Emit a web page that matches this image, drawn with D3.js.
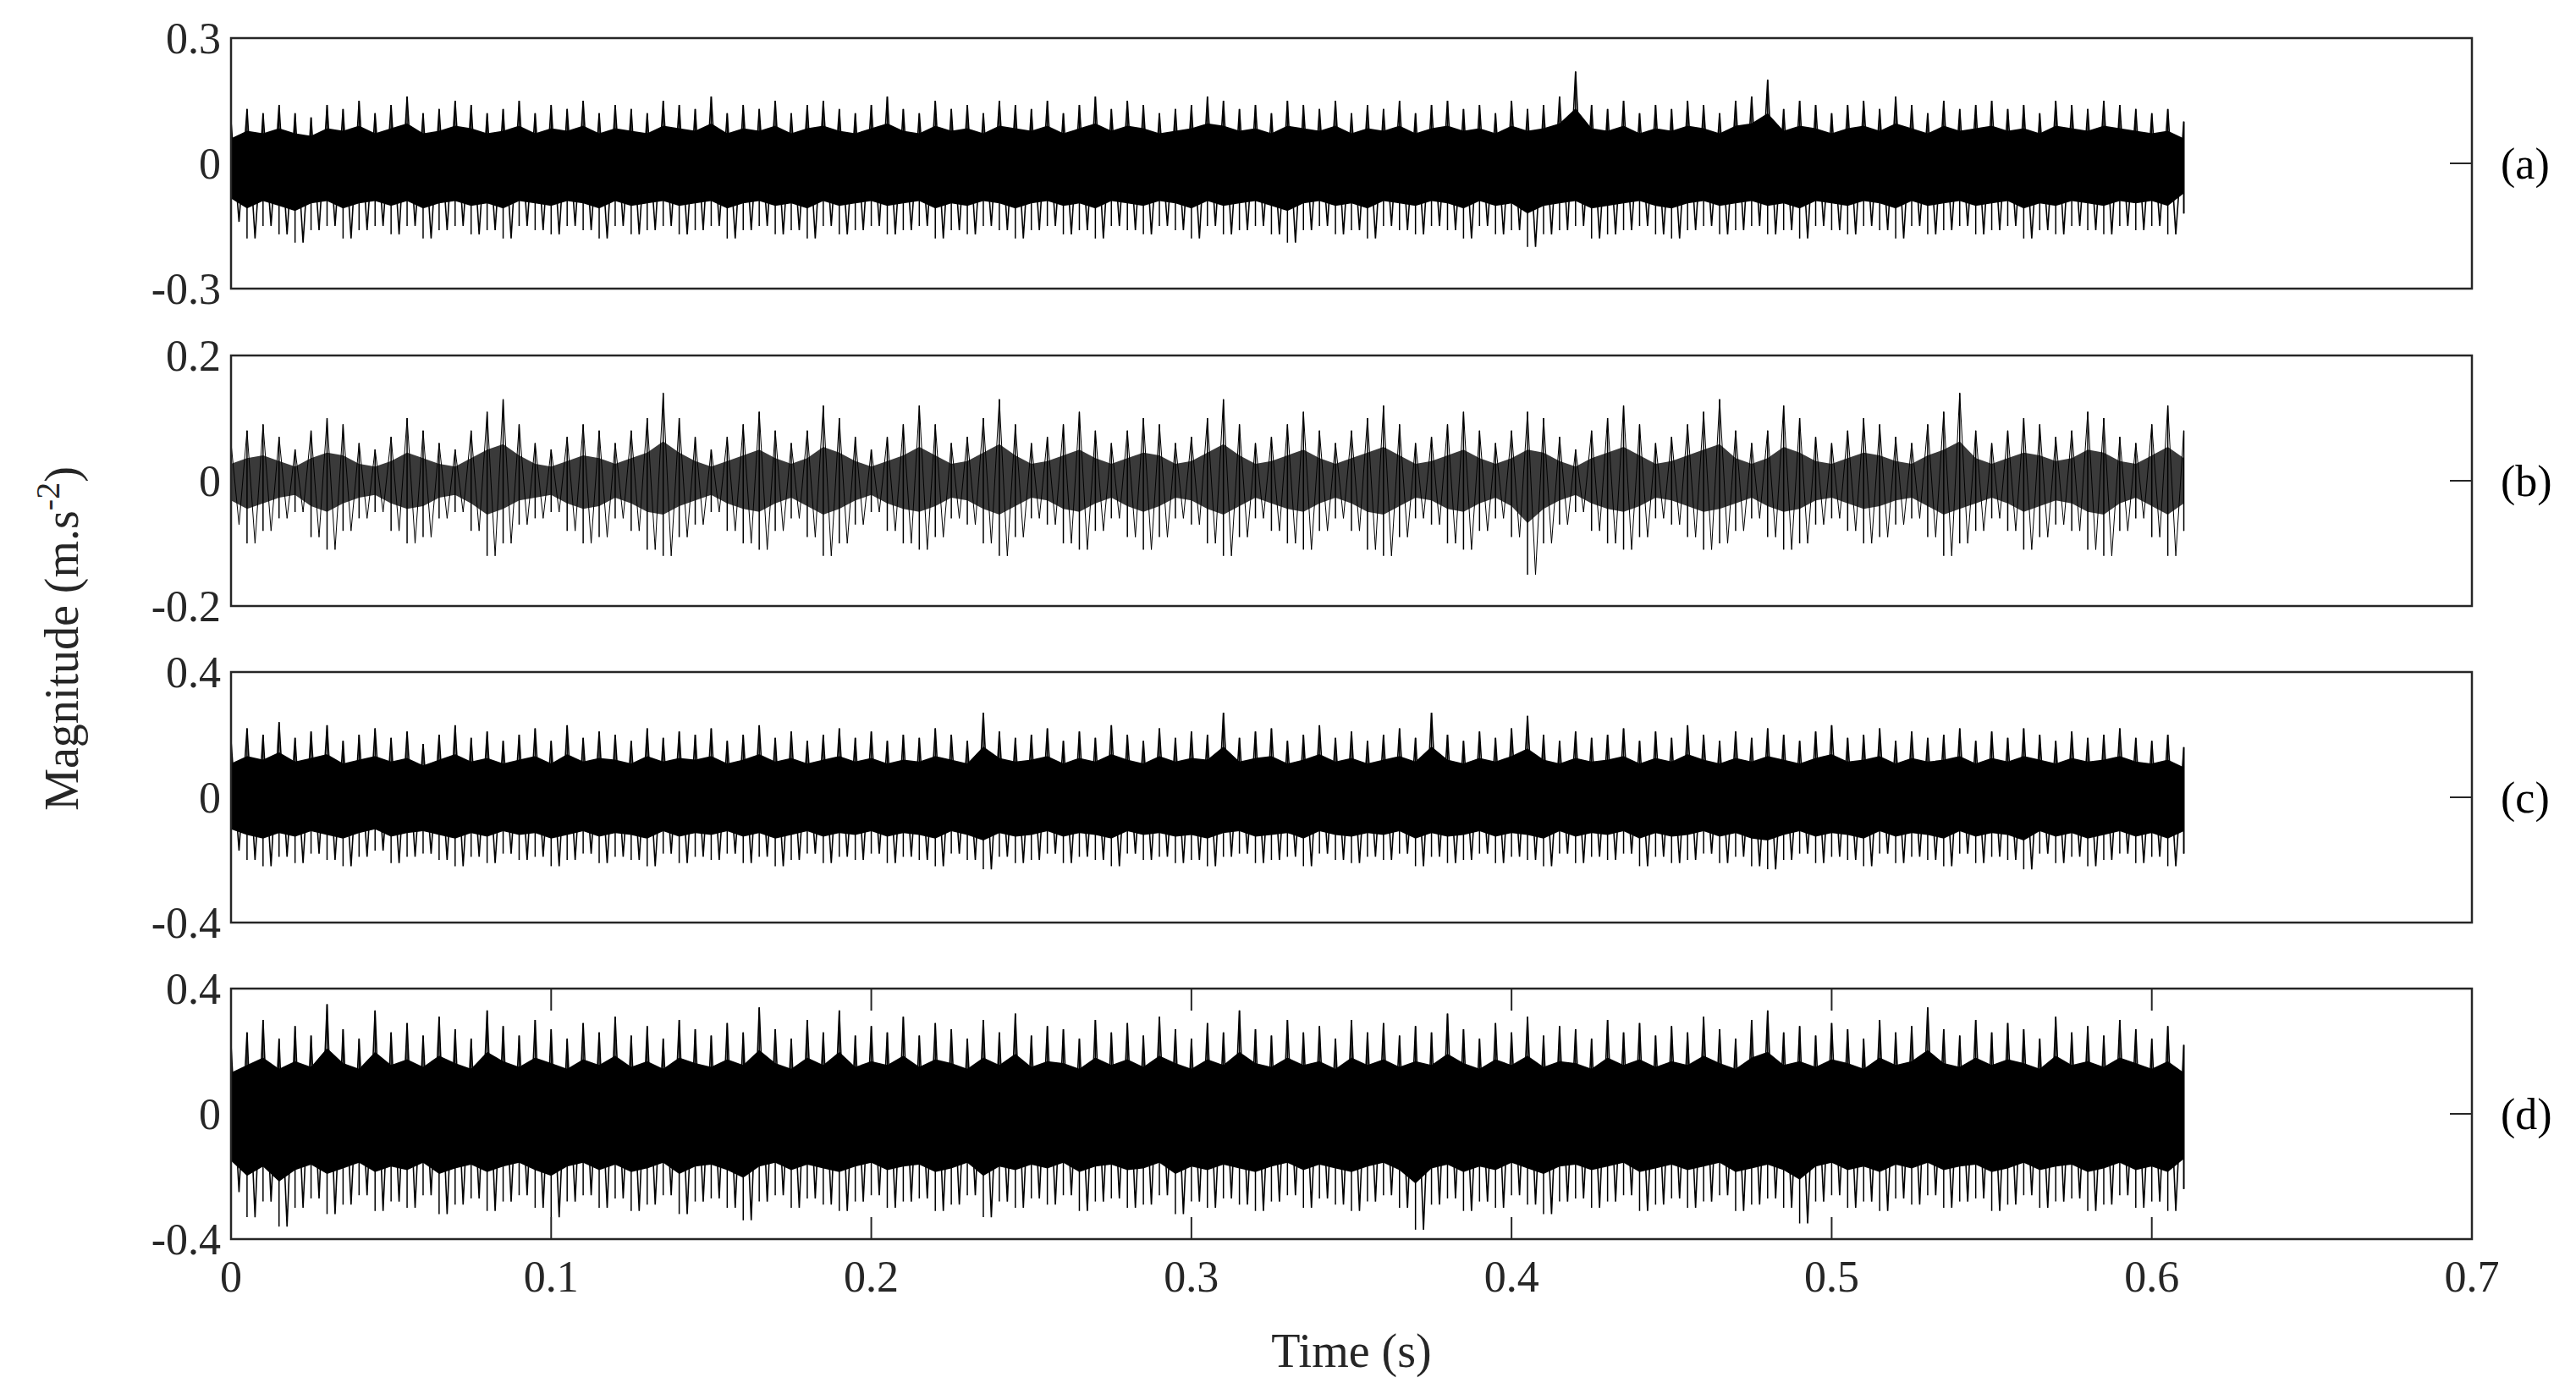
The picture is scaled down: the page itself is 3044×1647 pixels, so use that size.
<!DOCTYPE html>
<html><head><meta charset="utf-8">
<script src="https://cdn.jsdelivr.net/npm/d3@7"></script>
<style>body{margin:0;background:#fff}</style>
</head><body>
<div id="chart"></div>
<script>
// Peak envelope of each signal, one value every 0.005 s from 0 to 0.61 s
const step = 0.005;
const panelLabels = ["(a)", "(b)", "(c)", "(d)"];
const yLimits = [0.3, 0.2, 0.4, 0.4];
// share of the peak level that the dense body of each trace reaches
const bodyShare = [0.6, 0.45, 0.6, 0.6];
const xTicks = [0, 0.1, 0.2, 0.3, 0.4, 0.5, 0.6, 0.7];

const aUp = [0.10,0.13,0.12,0.14,0.12,0.11,0.14,0.13,0.15,0.12,0.14,0.16,0.12,0.13,0.15,0.14,0.12,0.13,0.15,0.12,
0.14,0.13,0.15,0.12,0.14,0.13,0.12,0.15,0.14,0.13,0.16,0.12,0.14,0.13,0.15,0.12,0.14,0.15,0.13,0.12,
0.14,0.16,0.13,0.12,0.15,0.13,0.14,0.12,0.15,0.14,0.13,0.15,0.12,0.14,0.16,0.13,0.15,0.14,0.12,0.13,
0.14,0.16,0.15,0.13,0.14,0.12,0.15,0.14,0.13,0.15,0.12,0.14,0.13,0.15,0.12,0.14,0.15,0.13,0.14,0.12,
0.15,0.13,0.14,0.16,0.22,0.14,0.13,0.15,0.12,0.14,0.13,0.15,0.14,0.12,0.15,0.16,0.20,0.13,0.15,0.14,
0.12,0.14,0.15,0.13,0.16,0.14,0.12,0.15,0.13,0.14,0.15,0.13,0.14,0.12,0.15,0.14,0.13,0.15,0.14,0.13,
0.12,0.13,0.10];
const aLo = [-0.14,-0.18,-0.15,-0.17,-0.19,-0.16,-0.15,-0.18,-0.16,-0.15,-0.17,-0.15,-0.18,-0.16,-0.15,-0.17,-0.16,-0.18,-0.15,-0.16,
-0.17,-0.15,-0.16,-0.18,-0.15,-0.17,-0.16,-0.15,-0.17,-0.16,-0.15,-0.18,-0.16,-0.15,-0.17,-0.16,-0.18,-0.15,-0.17,-0.16,
-0.15,-0.17,-0.16,-0.15,-0.18,-0.16,-0.17,-0.15,-0.16,-0.18,-0.16,-0.15,-0.17,-0.16,-0.18,-0.15,-0.16,-0.17,-0.15,-0.16,
-0.18,-0.15,-0.17,-0.16,-0.15,-0.17,-0.19,-0.16,-0.15,-0.17,-0.16,-0.18,-0.15,-0.16,-0.17,-0.15,-0.16,-0.18,-0.15,-0.17,
-0.16,-0.20,-0.17,-0.16,-0.15,-0.18,-0.17,-0.16,-0.15,-0.17,-0.18,-0.16,-0.15,-0.17,-0.16,-0.15,-0.17,-0.16,-0.18,-0.15,
-0.16,-0.17,-0.15,-0.16,-0.18,-0.15,-0.17,-0.16,-0.15,-0.17,-0.16,-0.15,-0.18,-0.16,-0.17,-0.15,-0.16,-0.17,-0.15,-0.16,
-0.15,-0.17,-0.12];
const bUp = [0.06,0.08,0.09,0.07,0.05,0.08,0.10,0.09,0.06,0.05,0.07,0.10,0.08,0.06,0.05,0.08,0.11,0.13,0.09,0.06,
0.05,0.07,0.09,0.08,0.06,0.08,0.10,0.14,0.10,0.07,0.05,0.07,0.09,0.11,0.08,0.06,0.08,0.12,0.10,0.07,
0.05,0.07,0.09,0.12,0.09,0.06,0.07,0.10,0.13,0.09,0.06,0.07,0.09,0.11,0.08,0.06,0.08,0.10,0.09,0.06,
0.07,0.10,0.13,0.09,0.06,0.07,0.09,0.11,0.08,0.06,0.08,0.10,0.12,0.09,0.06,0.07,0.09,0.11,0.08,0.06,
0.08,0.11,0.10,0.07,0.05,0.08,0.10,0.12,0.09,0.06,0.07,0.09,0.11,0.13,0.08,0.06,0.08,0.12,0.10,0.07,
0.06,0.08,0.10,0.09,0.07,0.06,0.09,0.11,0.14,0.08,0.06,0.08,0.10,0.09,0.07,0.08,0.11,0.10,0.07,0.06,
0.09,0.12,0.08];
const bLo = [-0.07,-0.10,-0.08,-0.06,-0.05,-0.09,-0.11,-0.08,-0.06,-0.05,-0.08,-0.10,-0.09,-0.06,-0.05,-0.08,-0.12,-0.10,-0.07,-0.06,
-0.05,-0.08,-0.10,-0.09,-0.06,-0.08,-0.11,-0.12,-0.09,-0.07,-0.05,-0.08,-0.10,-0.11,-0.08,-0.06,-0.09,-0.12,-0.10,-0.07,
-0.05,-0.08,-0.10,-0.11,-0.09,-0.06,-0.07,-0.10,-0.12,-0.09,-0.06,-0.07,-0.10,-0.11,-0.08,-0.06,-0.09,-0.11,-0.09,-0.06,
-0.07,-0.10,-0.12,-0.09,-0.06,-0.08,-0.10,-0.11,-0.08,-0.06,-0.08,-0.11,-0.12,-0.09,-0.06,-0.07,-0.10,-0.11,-0.08,-0.06,
-0.09,-0.15,-0.10,-0.07,-0.05,-0.08,-0.10,-0.11,-0.09,-0.06,-0.07,-0.09,-0.11,-0.10,-0.08,-0.06,-0.09,-0.11,-0.10,-0.07,
-0.06,-0.08,-0.10,-0.09,-0.07,-0.06,-0.09,-0.12,-0.10,-0.08,-0.06,-0.08,-0.11,-0.09,-0.07,-0.08,-0.11,-0.12,-0.08,-0.06,
-0.09,-0.12,-0.08];
const cUp = [0.18,0.22,0.20,0.24,0.19,0.21,0.23,0.18,0.20,0.22,0.19,0.21,0.17,0.20,0.23,0.19,0.21,0.18,0.20,0.22,
0.18,0.23,0.19,0.21,0.20,0.18,0.22,0.19,0.21,0.20,0.22,0.18,0.20,0.23,0.19,0.21,0.18,0.20,0.22,0.19,
0.21,0.18,0.20,0.19,0.22,0.20,0.18,0.27,0.21,0.19,0.20,0.22,0.18,0.21,0.19,0.23,0.20,0.18,0.22,0.19,
0.21,0.20,0.27,0.19,0.21,0.22,0.18,0.20,0.23,0.19,0.21,0.18,0.20,0.22,0.19,0.27,0.20,0.18,0.21,0.19,
0.22,0.26,0.20,0.18,0.21,0.19,0.20,0.22,0.18,0.21,0.19,0.23,0.20,0.18,0.21,0.19,0.22,0.20,0.18,0.21,
0.23,0.19,0.20,0.22,0.18,0.21,0.19,0.20,0.22,0.18,0.21,0.19,0.22,0.20,0.18,0.21,0.19,0.20,0.22,0.19,
0.18,0.20,0.16];
const cLo = [-0.17,-0.20,-0.22,-0.19,-0.21,-0.18,-0.20,-0.22,-0.19,-0.17,-0.21,-0.19,-0.18,-0.20,-0.22,-0.19,-0.21,-0.18,-0.20,-0.19,
-0.22,-0.20,-0.18,-0.21,-0.19,-0.20,-0.22,-0.18,-0.21,-0.19,-0.20,-0.18,-0.21,-0.19,-0.22,-0.20,-0.18,-0.21,-0.19,-0.20,
-0.18,-0.21,-0.19,-0.20,-0.22,-0.18,-0.20,-0.23,-0.19,-0.21,-0.20,-0.18,-0.21,-0.19,-0.20,-0.22,-0.18,-0.20,-0.19,-0.21,
-0.20,-0.22,-0.19,-0.18,-0.21,-0.20,-0.19,-0.22,-0.18,-0.20,-0.21,-0.19,-0.20,-0.18,-0.22,-0.19,-0.21,-0.20,-0.18,-0.21,
-0.19,-0.20,-0.22,-0.18,-0.21,-0.19,-0.20,-0.18,-0.22,-0.19,-0.21,-0.20,-0.18,-0.21,-0.19,-0.22,-0.23,-0.20,-0.18,-0.21,
-0.19,-0.20,-0.22,-0.18,-0.21,-0.19,-0.20,-0.22,-0.18,-0.21,-0.19,-0.20,-0.23,-0.18,-0.21,-0.19,-0.22,-0.20,-0.18,-0.21,
-0.19,-0.22,-0.18];
const dUp = [0.22,0.26,0.30,0.24,0.28,0.25,0.35,0.27,0.24,0.33,0.26,0.29,0.25,0.31,0.27,0.24,0.33,0.28,0.25,0.30,
0.27,0.24,0.29,0.26,0.31,0.25,0.28,0.24,0.30,0.27,0.25,0.29,0.26,0.34,0.27,0.24,0.30,0.26,0.33,0.25,
0.28,0.26,0.31,0.25,0.29,0.27,0.24,0.30,0.26,0.32,0.25,0.28,0.27,0.24,0.30,0.26,0.29,0.25,0.31,0.27,
0.24,0.29,0.26,0.33,0.27,0.25,0.30,0.26,0.28,0.24,0.30,0.26,0.29,0.25,0.28,0.26,0.32,0.27,0.24,0.29,
0.26,0.31,0.25,0.28,0.27,0.24,0.30,0.26,0.29,0.25,0.28,0.26,0.31,0.27,0.24,0.30,0.33,0.26,0.28,0.25,
0.29,0.27,0.24,0.30,0.26,0.28,0.34,0.27,0.25,0.30,0.26,0.29,0.27,0.24,0.31,0.26,0.28,0.25,0.30,0.27,
0.24,0.28,0.22];
const dLo = [-0.25,-0.33,-0.28,-0.36,-0.30,-0.27,-0.32,-0.29,-0.26,-0.31,-0.28,-0.30,-0.26,-0.32,-0.29,-0.27,-0.31,-0.28,-0.26,-0.30,
-0.33,-0.28,-0.26,-0.30,-0.27,-0.31,-0.29,-0.26,-0.32,-0.28,-0.27,-0.30,-0.34,-0.28,-0.26,-0.30,-0.27,-0.29,-0.31,-0.28,
-0.26,-0.30,-0.28,-0.27,-0.31,-0.29,-0.26,-0.33,-0.28,-0.30,-0.27,-0.29,-0.26,-0.31,-0.28,-0.27,-0.30,-0.29,-0.26,-0.32,
-0.28,-0.30,-0.27,-0.29,-0.31,-0.28,-0.26,-0.30,-0.27,-0.29,-0.31,-0.28,-0.26,-0.30,-0.37,-0.29,-0.27,-0.31,-0.28,-0.30,
-0.26,-0.29,-0.32,-0.28,-0.27,-0.30,-0.28,-0.26,-0.31,-0.29,-0.27,-0.30,-0.28,-0.26,-0.31,-0.29,-0.27,-0.30,-0.35,-0.28,
-0.26,-0.30,-0.28,-0.31,-0.27,-0.29,-0.26,-0.30,-0.28,-0.27,-0.31,-0.29,-0.26,-0.30,-0.28,-0.27,-0.31,-0.29,-0.26,-0.30,
-0.28,-0.31,-0.24];

const uppers = [aUp, bUp, cUp, dUp];
const lowers = [aLo, bLo, cLo, dLo];

const width = 3044, height = 1647;
const left = 273, right = 2921;
const panelTop = [45, 420, 794, 1168];
const panelH = 296;
const font = "'Liberation Serif', 'Times New Roman', serif";

const svg = d3.select("#chart").append("svg")
    .attr("width", width).attr("height", height)
    .style("font-family", font);

const x = d3.scaleLinear().domain([0, 0.7]).range([left, right]);

uppers.forEach((up, p) => {
  const lo = lowers[p];
  const lim = yLimits[p];
  const k = bodyShare[p];
  const y = d3.scaleLinear().domain([-lim, lim]).range([panelTop[p] + panelH, panelTop[p]]);
  const g = svg.append("g");
  const n = Math.min(up.length, lo.length);
  const idx = d3.range(n);

  // dense body of the trace
  const body = d3.area()
      .x(i => x(i * step))
      .y0(i => y(lo[i] * k))
      .y1(i => y(up[i] * k));
  g.append("path").datum(idx).attr("d", body)
      .attr("fill", p === 1 ? "#3a3a3a" : "#000");

  // oscillation between peaks
  const pts = [];
  idx.forEach(i => {
    pts.push([i * step, up[i]]);
    pts.push([Math.min(i * step + step / 2, 0.61), lo[i]]);
  });
  g.append("path").datum(pts)
      .attr("d", d3.line().x(d => x(d[0])).y(d => y(d[1])))
      .attr("fill", "none").attr("stroke", "#000").attr("stroke-width", p === 1 ? 1 : 1.6);

  // peak spikes
  g.selectAll(".spike").data(idx).join("line")
      .attr("x1", i => x(i * step)).attr("x2", i => x(i * step))
      .attr("y1", i => y(lo[i])).attr("y2", i => y(up[i]))
      .attr("stroke", "#000").attr("stroke-width", 1.5);

  // frame
  g.append("rect").attr("x", left).attr("y", panelTop[p])
      .attr("width", right - left).attr("height", panelH)
      .attr("fill", "none").attr("stroke", "#262626").attr("stroke-width", 2.5);

  // y tick labels
  [-lim, 0, lim].forEach(v => {
    g.append("text").attr("x", left - 12).attr("y", y(v) + 18)
        .attr("text-anchor", "end").attr("font-size", 52).attr("fill", "#262626")
        .text(v === 0 ? "0" : d3.format(".1f")(v).replace("−", "-"));
  });
  g.append("line").attr("x1", right).attr("x2", right - 26)
      .attr("y1", y(0)).attr("y2", y(0)).attr("stroke", "#262626").attr("stroke-width", 2);

  g.append("text").attr("x", 2955).attr("y", y(0) + 18)
      .attr("font-size", 52).attr("fill", "#000").text(panelLabels[p]);

  if (p === 3) {
    const bottom = panelTop[p] + panelH;
    xTicks.forEach(t => {
      g.append("line").attr("x1", x(t)).attr("x2", x(t))
          .attr("y1", bottom).attr("y2", bottom - 26).attr("stroke", "#262626").attr("stroke-width", 2);
      g.append("line").attr("x1", x(t)).attr("x2", x(t))
          .attr("y1", panelTop[p]).attr("y2", panelTop[p] + 26).attr("stroke", "#262626").attr("stroke-width", 2);
      g.append("text").attr("x", x(t)).attr("y", bottom + 62)
          .attr("text-anchor", "middle").attr("font-size", 52).attr("fill", "#262626")
          .text(t === 0 ? "0" : String(t));
    });
  }
});

svg.append("text").attr("x", (left + right) / 2).attr("y", 1615)
    .attr("text-anchor", "middle").attr("font-size", 56).attr("fill", "#262626")
    .text("Time (s)");

const yl = svg.append("text")
    .attr("transform", `translate(92,${(45 + 1464) / 2}) rotate(-90)`)
    .attr("text-anchor", "middle").attr("font-size", 56).attr("fill", "#262626");
yl.append("tspan").text("Magnitude (m.s");
yl.append("tspan").attr("dy", -22).attr("font-size", 40).text("-2");
yl.append("tspan").attr("dy", 22).text(")");
</script>
</body></html>
